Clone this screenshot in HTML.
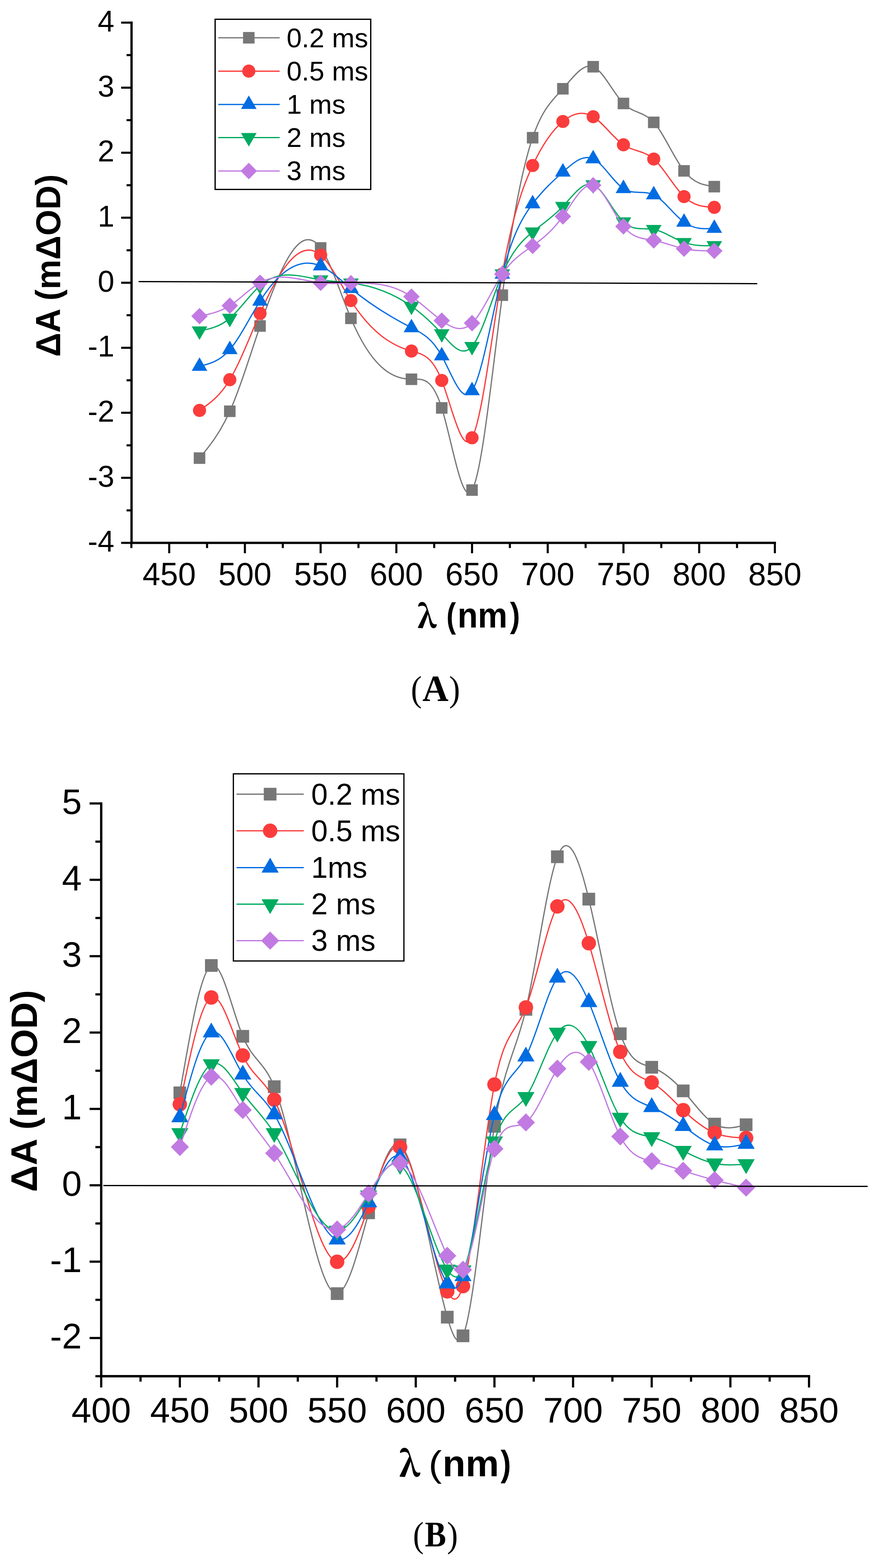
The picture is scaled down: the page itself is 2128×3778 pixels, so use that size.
<!DOCTYPE html><html><head><meta charset="utf-8"><style>html,body{margin:0;padding:0;background:#fff}svg{display:block}text{font-family:"Liberation Sans",Arial,sans-serif}.ser{font-family:"Liberation Serif","Times New Roman",serif;font-weight:bold}</style></head><body>
<svg width="2128" height="3778" viewBox="0 0 2128 3778">
<rect width="2128" height="3778" fill="#fff"/>
<g fill="none" stroke="#777777" stroke-width="3" stroke-linejoin="round"><path d="M480.78,1103.80 C505.11,1074.52 529.43,1045.25 553.76,990.90 C578.09,936.55 602.41,857.13 626.74,785.50 C675.39,642.25 724.05,530.18 772.70,597.40 C797.03,631.01 821.35,709.43 845.68,767.00 C894.33,882.13 942.99,913.82 991.64,913.80 C1015.97,913.79 1040.29,905.86 1064.62,982.90 C1088.95,1059.94 1113.27,1221.96 1137.60,1180.80 C1161.93,1139.64 1186.25,895.29 1210.58,711.20 C1234.91,527.11 1259.23,403.29 1283.56,331.80 C1307.89,260.31 1332.21,241.17 1356.54,213.90 C1380.87,186.63 1405.19,151.24 1429.52,160.80 C1453.85,170.36 1478.17,224.86 1502.50,249.30 C1526.83,273.74 1551.15,268.11 1575.48,294.80 C1599.81,321.49 1624.13,380.50 1648.46,411.70 C1672.79,442.90 1697.11,446.30 1721.44,449.70"/></g>
<g><rect x="466.9" y="1089.9" width="27.8" height="27.8" fill="#777777"/><rect x="539.9" y="977.0" width="27.8" height="27.8" fill="#777777"/><rect x="612.8" y="771.6" width="27.8" height="27.8" fill="#777777"/><rect x="758.8" y="583.5" width="27.8" height="27.8" fill="#777777"/><rect x="831.8" y="753.1" width="27.8" height="27.8" fill="#777777"/><rect x="977.7" y="899.9" width="27.8" height="27.8" fill="#777777"/><rect x="1050.7" y="969.0" width="27.8" height="27.8" fill="#777777"/><rect x="1123.7" y="1166.9" width="27.8" height="27.8" fill="#777777"/><rect x="1196.7" y="697.3" width="27.8" height="27.8" fill="#777777"/><rect x="1269.7" y="317.9" width="27.8" height="27.8" fill="#777777"/><rect x="1342.6" y="200.0" width="27.8" height="27.8" fill="#777777"/><rect x="1415.6" y="146.9" width="27.8" height="27.8" fill="#777777"/><rect x="1488.6" y="235.4" width="27.8" height="27.8" fill="#777777"/><rect x="1561.6" y="280.9" width="27.8" height="27.8" fill="#777777"/><rect x="1634.6" y="397.8" width="27.8" height="27.8" fill="#777777"/><rect x="1707.5" y="435.8" width="27.8" height="27.8" fill="#777777"/></g>
<g fill="none" stroke="#FB3C3C" stroke-width="3" stroke-linejoin="round"><path d="M480.78,988.90 C505.11,972.16 529.43,955.42 553.76,914.90 C578.09,874.38 602.41,810.08 626.74,755.10 C675.39,645.13 724.05,572.42 772.70,614.70 C797.03,635.84 821.35,685.73 845.68,724.20 C894.33,801.13 942.99,832.36 991.64,845.90 C1015.97,852.67 1040.29,855.01 1064.62,916.70 C1088.95,978.39 1113.27,1099.42 1137.60,1054.80 C1161.93,1010.18 1186.25,799.89 1210.58,660.00 C1234.91,520.11 1259.23,450.60 1283.56,398.80 C1307.89,347.00 1332.21,312.90 1356.54,292.70 C1380.87,272.50 1405.19,266.21 1429.52,281.20 C1453.85,296.19 1478.17,332.45 1502.50,348.90 C1526.83,365.35 1551.15,361.99 1575.48,383.20 C1599.81,404.41 1624.13,450.20 1648.46,473.70 C1672.79,497.20 1697.11,498.40 1721.44,499.60"/></g>
<g><circle cx="480.8" cy="988.9" r="15.8" fill="#FB3C3C"/><circle cx="553.8" cy="914.9" r="15.8" fill="#FB3C3C"/><circle cx="626.7" cy="755.1" r="15.8" fill="#FB3C3C"/><circle cx="772.7" cy="614.7" r="15.8" fill="#FB3C3C"/><circle cx="845.7" cy="724.2" r="15.8" fill="#FB3C3C"/><circle cx="991.6" cy="845.9" r="15.8" fill="#FB3C3C"/><circle cx="1064.6" cy="916.7" r="15.8" fill="#FB3C3C"/><circle cx="1137.6" cy="1054.8" r="15.8" fill="#FB3C3C"/><circle cx="1210.6" cy="660.0" r="15.8" fill="#FB3C3C"/><circle cx="1283.6" cy="398.8" r="15.8" fill="#FB3C3C"/><circle cx="1356.5" cy="292.7" r="15.8" fill="#FB3C3C"/><circle cx="1429.5" cy="281.2" r="15.8" fill="#FB3C3C"/><circle cx="1502.5" cy="348.9" r="15.8" fill="#FB3C3C"/><circle cx="1575.5" cy="383.2" r="15.8" fill="#FB3C3C"/><circle cx="1648.5" cy="473.7" r="15.8" fill="#FB3C3C"/><circle cx="1721.4" cy="499.6" r="15.8" fill="#FB3C3C"/></g>
<g fill="none" stroke="#006CE2" stroke-width="3" stroke-linejoin="round"><path d="M480.78,882.70 C505.11,876.64 529.43,870.59 553.76,842.40 C578.09,814.21 602.41,763.90 626.74,725.50 C675.39,648.70 724.05,619.54 772.70,640.80 C797.03,651.43 821.35,674.67 845.68,695.00 C894.33,735.66 942.99,764.69 991.64,789.60 C1015.97,802.06 1040.29,813.49 1064.62,857.40 C1088.95,901.31 1113.27,977.71 1137.60,941.40 C1161.93,905.09 1186.25,756.08 1210.58,660.60 C1234.91,565.12 1259.23,523.17 1283.56,491.00 C1307.89,458.83 1332.21,436.42 1356.54,414.50 C1380.87,392.58 1405.19,371.13 1429.52,382.60 C1453.85,394.07 1478.17,438.45 1502.50,454.30 C1526.83,470.15 1551.15,457.48 1575.48,469.40 C1599.81,481.32 1624.13,517.82 1648.46,535.40 C1672.79,552.98 1697.11,551.64 1721.44,550.30"/></g>
<g><polygon points="480.8,861.0 499.6,893.6 462.0,893.6" fill="#006CE2"/><polygon points="553.8,820.7 572.6,853.2 535.0,853.2" fill="#006CE2"/><polygon points="626.7,703.8 645.5,736.4 607.9,736.4" fill="#006CE2"/><polygon points="772.7,619.1 791.5,651.6 753.9,651.6" fill="#006CE2"/><polygon points="845.7,673.3 864.5,705.9 826.9,705.9" fill="#006CE2"/><polygon points="991.6,767.9 1010.4,800.5 972.8,800.5" fill="#006CE2"/><polygon points="1064.6,835.7 1083.4,868.2 1045.8,868.2" fill="#006CE2"/><polygon points="1137.6,919.7 1156.4,952.2 1118.8,952.2" fill="#006CE2"/><polygon points="1210.6,638.9 1229.4,671.5 1191.8,671.5" fill="#006CE2"/><polygon points="1283.6,469.3 1302.4,501.9 1264.8,501.9" fill="#006CE2"/><polygon points="1356.5,392.8 1375.3,425.4 1337.7,425.4" fill="#006CE2"/><polygon points="1429.5,360.9 1448.3,393.5 1410.7,393.5" fill="#006CE2"/><polygon points="1502.5,432.6 1521.3,465.2 1483.7,465.2" fill="#006CE2"/><polygon points="1575.5,447.7 1594.3,480.2 1556.7,480.2" fill="#006CE2"/><polygon points="1648.5,513.7 1667.3,546.2 1629.7,546.2" fill="#006CE2"/><polygon points="1721.4,528.6 1740.2,561.1 1702.6,561.1" fill="#006CE2"/></g>
<g fill="none" stroke="#00AB60" stroke-width="3" stroke-linejoin="round"><path d="M480.78,797.40 C505.11,792.60 529.43,787.80 553.76,767.00 C578.09,746.20 602.41,709.42 626.74,688.30 C675.39,646.07 724.05,666.53 772.70,674.20 C797.03,678.03 821.35,678.67 845.68,681.70 C894.33,687.77 942.99,703.44 991.64,737.90 C1015.97,755.13 1040.29,777.05 1064.62,804.10 C1088.95,831.15 1113.27,863.31 1137.60,834.70 C1161.93,806.09 1186.25,716.71 1210.58,659.90 C1234.91,603.09 1259.23,578.87 1283.56,558.90 C1307.89,538.93 1332.21,523.23 1356.54,497.30 C1380.87,471.37 1405.19,435.22 1429.52,445.20 C1453.85,455.18 1478.17,511.29 1502.50,534.60 C1526.83,557.91 1551.15,548.43 1575.48,552.80 C1599.81,557.17 1624.13,575.41 1648.46,584.20 C1672.79,592.99 1697.11,592.35 1721.44,591.70"/></g>
<g><polygon points="462.0,786.5 499.6,786.5 480.8,819.1" fill="#00AB60"/><polygon points="535.0,756.1 572.6,756.1 553.8,788.7" fill="#00AB60"/><polygon points="607.9,677.4 645.5,677.4 626.7,710.0" fill="#00AB60"/><polygon points="753.9,663.4 791.5,663.4 772.7,695.9" fill="#00AB60"/><polygon points="826.9,670.9 864.5,670.9 845.7,703.4" fill="#00AB60"/><polygon points="972.8,727.0 1010.4,727.0 991.6,759.6" fill="#00AB60"/><polygon points="1045.8,793.2 1083.4,793.2 1064.6,825.8" fill="#00AB60"/><polygon points="1118.8,823.9 1156.4,823.9 1137.6,856.4" fill="#00AB60"/><polygon points="1191.8,649.0 1229.4,649.0 1210.6,681.6" fill="#00AB60"/><polygon points="1264.8,548.0 1302.4,548.0 1283.6,580.6" fill="#00AB60"/><polygon points="1337.7,486.4 1375.3,486.4 1356.5,519.0" fill="#00AB60"/><polygon points="1410.7,434.3 1448.3,434.3 1429.5,466.9" fill="#00AB60"/><polygon points="1483.7,523.8 1521.3,523.8 1502.5,556.3" fill="#00AB60"/><polygon points="1556.7,541.9 1594.3,541.9 1575.5,574.5" fill="#00AB60"/><polygon points="1629.7,573.4 1667.3,573.4 1648.5,605.9" fill="#00AB60"/><polygon points="1702.6,580.9 1740.2,580.9 1721.4,613.4" fill="#00AB60"/></g>
<g fill="none" stroke="#C17AE2" stroke-width="3" stroke-linejoin="round"><path d="M480.78,761.70 C505.11,756.83 529.43,751.96 553.76,736.50 C578.09,721.04 602.41,695.00 626.74,681.30 C675.39,653.90 724.05,675.85 772.70,681.40 C797.03,684.17 821.35,682.85 845.68,682.20 C894.33,680.90 942.99,682.32 991.64,714.70 C1015.97,730.89 1040.29,754.83 1064.62,772.60 C1088.95,790.37 1113.27,801.99 1137.60,778.60 C1161.93,755.21 1186.25,696.81 1210.58,660.40 C1234.91,623.99 1259.23,609.56 1283.56,592.40 C1307.89,575.24 1332.21,555.36 1356.54,521.40 C1380.87,487.44 1405.19,439.40 1429.52,446.30 C1453.85,453.20 1478.17,515.04 1502.50,545.40 C1526.83,575.76 1551.15,574.63 1575.48,579.20 C1599.81,583.77 1624.13,594.03 1648.46,599.20 C1672.79,604.37 1697.11,604.43 1721.44,604.50"/></g>
<g><polygon points="480.8,741.9 500.6,761.7 480.8,781.5 461.0,761.7" fill="#C17AE2"/><polygon points="553.8,716.7 573.6,736.5 553.8,756.3 534.0,736.5" fill="#C17AE2"/><polygon points="626.7,661.5 646.5,681.3 626.7,701.1 606.9,681.3" fill="#C17AE2"/><polygon points="772.7,661.6 792.5,681.4 772.7,701.2 752.9,681.4" fill="#C17AE2"/><polygon points="845.7,662.4 865.5,682.2 845.7,702.0 825.9,682.2" fill="#C17AE2"/><polygon points="991.6,694.9 1011.4,714.7 991.6,734.5 971.8,714.7" fill="#C17AE2"/><polygon points="1064.6,752.8 1084.4,772.6 1064.6,792.4 1044.8,772.6" fill="#C17AE2"/><polygon points="1137.6,758.8 1157.4,778.6 1137.6,798.4 1117.8,778.6" fill="#C17AE2"/><polygon points="1210.6,640.6 1230.4,660.4 1210.6,680.2 1190.8,660.4" fill="#C17AE2"/><polygon points="1283.6,572.6 1303.4,592.4 1283.6,612.2 1263.8,592.4" fill="#C17AE2"/><polygon points="1356.5,501.6 1376.3,521.4 1356.5,541.2 1336.7,521.4" fill="#C17AE2"/><polygon points="1429.5,426.5 1449.3,446.3 1429.5,466.1 1409.7,446.3" fill="#C17AE2"/><polygon points="1502.5,525.6 1522.3,545.4 1502.5,565.2 1482.7,545.4" fill="#C17AE2"/><polygon points="1575.5,559.4 1595.3,579.2 1575.5,599.0 1555.7,579.2" fill="#C17AE2"/><polygon points="1648.5,579.4 1668.3,599.2 1648.5,619.0 1628.7,599.2" fill="#C17AE2"/><polygon points="1721.4,584.7 1741.2,604.5 1721.4,624.3 1701.6,604.5" fill="#C17AE2"/></g>
<line x1="334" y1="678.5" x2="1825" y2="683.4" stroke="#000" stroke-width="3"/>
<path d="M317,51.8 V1308 H1870.1000000000001" fill="none" stroke="#000" stroke-width="5.5" stroke-linejoin="miter"/>
<path d="M292,54.5 H317 M292,211.2 H317 M292,367.9 H317 M292,524.6 H317 M292,681.2 H317 M292,837.9 H317 M292,994.6 H317 M292,1151.3 H317 M292,1308.0 H317 M305,132.8 H317 M305,289.5 H317 M305,446.2 H317 M305,602.9 H317 M305,759.6 H317 M305,916.3 H317 M305,1073.0 H317 M305,1229.7 H317 M407.8,1308 V1333 M590.2,1308 V1333 M772.7,1308 V1333 M955.2,1308 V1333 M1137.6,1308 V1333 M1320.0,1308 V1333 M1502.5,1308 V1333 M1685.0,1308 V1333 M1867.4,1308 V1333 M316.6,1308 V1320.5 M499.0,1308 V1320.5 M681.5,1308 V1320.5 M863.9,1308 V1320.5 M1046.4,1308 V1320.5 M1228.8,1308 V1320.5 M1411.3,1308 V1320.5 M1593.7,1308 V1320.5 M1776.2,1308 V1320.5" stroke="#000" stroke-width="5" fill="none"/>
<text x="275.5" y="75.8" font-size="72" text-anchor="end">4</text>
<text x="275.5" y="232.5" font-size="72" text-anchor="end">3</text>
<text x="275.5" y="389.2" font-size="72" text-anchor="end">2</text>
<text x="275.5" y="545.9" font-size="72" text-anchor="end">1</text>
<text x="275.5" y="702.5" font-size="72" text-anchor="end">0</text>
<text x="275.5" y="859.2" font-size="72" text-anchor="end">-1</text>
<text x="275.5" y="1015.9" font-size="72" text-anchor="end">-2</text>
<text x="275.5" y="1172.6" font-size="72" text-anchor="end">-3</text>
<text x="275.5" y="1329.3" font-size="72" text-anchor="end">-4</text>
<text x="407.8" y="1409.5" font-size="77" text-anchor="middle">450</text>
<text x="590.2" y="1409.5" font-size="77" text-anchor="middle">500</text>
<text x="772.7" y="1409.5" font-size="77" text-anchor="middle">550</text>
<text x="955.2" y="1409.5" font-size="77" text-anchor="middle">600</text>
<text x="1137.6" y="1409.5" font-size="77" text-anchor="middle">650</text>
<text x="1320.0" y="1409.5" font-size="77" text-anchor="middle">700</text>
<text x="1502.5" y="1409.5" font-size="77" text-anchor="middle">750</text>
<text x="1685.0" y="1409.5" font-size="77" text-anchor="middle">800</text>
<text x="1867.4" y="1409.5" font-size="77" text-anchor="middle">850</text>
<text x="300" y="400" font-size="84" style="font-family:'Liberation Sans';font-weight:bold"  transform="matrix(0.00000 -0.96009 0.98846 0.00000 -250.09 1147.81)">ΔA (mΔOD)</text>
<text x="300" y="400" font-size="86" style="font-family:'Noto Serif CJK SC';font-weight:bold;stroke:#000;stroke-width:1.5"  transform="matrix(0.83889 0.00000 0.00000 0.86351 754.69 1166.97)">λ</text>
<text x="300" y="400" font-size="86" style="font-family:'Liberation Sans';font-weight:bold"  transform="matrix(0.80417 0.00000 0.00000 0.96500 834.53 1125.63)">(</text>
<text x="300" y="400" font-size="86" style="font-family:'Liberation Sans';font-weight:bold"  transform="matrix(0.93390 0.00000 0.00000 1.00217 822.23 1111.53)">nm</text>
<text x="300" y="400" font-size="86" style="font-family:'Liberation Sans';font-weight:bold"  transform="matrix(0.85000 0.00000 0.00000 0.96125 973.90 1127.00)">)</text>
<rect x="518.45" y="46.45" width="375.0" height="410.0" fill="#fff" stroke="#000" stroke-width="3.1"/>
<line x1="526" y1="91" x2="674" y2="91" stroke="#777777" stroke-width="3"/>
<rect x="585.7" y="77.1" width="27.8" height="27.8" fill="#777777"/>
<text x="690.7" y="114.4" font-size="65.5">0.2 ms</text>
<line x1="526" y1="171.4" x2="674" y2="171.4" stroke="#FB3C3C" stroke-width="3"/>
<circle cx="599.6" cy="171.4" r="15.8" fill="#FB3C3C"/>
<text x="690.7" y="193.8" font-size="65.5">0.5 ms</text>
<line x1="526" y1="251.7" x2="674" y2="251.7" stroke="#006CE2" stroke-width="3"/>
<polygon points="599.6,230.0 618.4,262.6 580.8,262.6" fill="#006CE2"/>
<text x="690.7" y="274.3" font-size="65.5">1 ms</text>
<line x1="526" y1="331.4" x2="674" y2="331.4" stroke="#00AB60" stroke-width="3"/>
<polygon points="580.8,320.5 618.4,320.5 599.6,353.1" fill="#00AB60"/>
<text x="690.7" y="354.3" font-size="65.5">2 ms</text>
<line x1="526" y1="412.1" x2="674" y2="412.1" stroke="#C17AE2" stroke-width="3"/>
<polygon points="599.6,392.3 619.4,412.1 599.6,431.9 579.8,412.1" fill="#C17AE2"/>
<text x="690.7" y="434.2" font-size="65.5">3 ms</text>
<text x="300" y="400" font-size="87" style="font-family:'Liberation Serif'"  transform="matrix(0.90909 0.00000 0.00000 1.00128 717.44 1288.36)">(</text>
<text x="300" y="400" font-size="87" style="font-family:'Liberation Serif';font-weight:bold"  transform="matrix(1.00164 0.00000 0.00000 1.01579 717.41 1281.48)">A</text>
<text x="300" y="400" font-size="87" style="font-family:'Liberation Serif'"  transform="matrix(0.91364 0.00000 0.00000 1.00128 808.07 1288.36)">)</text>
<g fill="none" stroke="#777777" stroke-width="3" stroke-linejoin="round"><path d="M433.44,2633.10 C458.71,2485.89 483.98,2338.68 509.25,2326.30 C534.52,2313.92 559.79,2436.38 585.06,2496.90 C610.33,2557.42 635.61,2556.01 660.88,2618.30 C711.42,2742.89 761.96,3122.30 812.50,3116.90 C837.78,3114.20 863.05,3015.30 888.32,2922.20 C913.59,2829.10 938.86,2741.82 964.13,2758.40 C1002.04,2783.27 1039.95,3041.84 1077.85,3173.60 C1090.49,3217.52 1103.13,3247.35 1115.76,3218.60 C1141.03,3161.11 1166.30,2869.32 1191.58,2713.80 C1216.85,2558.28 1242.12,2539.03 1267.39,2432.00 C1292.66,2324.97 1317.93,2130.17 1343.20,2064.30 C1368.47,1998.43 1393.75,2061.50 1419.02,2166.40 C1444.29,2271.30 1469.56,2418.04 1494.83,2490.80 C1520.10,2563.56 1545.37,2562.33 1570.65,2571.50 C1595.92,2580.67 1621.19,2600.23 1646.46,2628.40 C1671.73,2656.57 1697.00,2693.36 1722.27,2708.40 C1747.54,2723.44 1772.82,2716.72 1798.09,2710.00"/></g>
<g><rect x="418.1" y="2617.8" width="30.6" height="30.6" fill="#777777"/><rect x="494.0" y="2311.0" width="30.6" height="30.6" fill="#777777"/><rect x="569.8" y="2481.6" width="30.6" height="30.6" fill="#777777"/><rect x="645.6" y="2603.0" width="30.6" height="30.6" fill="#777777"/><rect x="797.2" y="3101.6" width="30.6" height="30.6" fill="#777777"/><rect x="873.0" y="2906.9" width="30.6" height="30.6" fill="#777777"/><rect x="948.8" y="2743.1" width="30.6" height="30.6" fill="#777777"/><rect x="1062.6" y="3158.3" width="30.6" height="30.6" fill="#777777"/><rect x="1100.5" y="3203.3" width="30.6" height="30.6" fill="#777777"/><rect x="1176.3" y="2698.5" width="30.6" height="30.6" fill="#777777"/><rect x="1252.1" y="2416.7" width="30.6" height="30.6" fill="#777777"/><rect x="1327.9" y="2049.0" width="30.6" height="30.6" fill="#777777"/><rect x="1403.7" y="2151.1" width="30.6" height="30.6" fill="#777777"/><rect x="1479.5" y="2475.5" width="30.6" height="30.6" fill="#777777"/><rect x="1555.4" y="2556.2" width="30.6" height="30.6" fill="#777777"/><rect x="1631.2" y="2613.1" width="30.6" height="30.6" fill="#777777"/><rect x="1707.0" y="2693.1" width="30.6" height="30.6" fill="#777777"/><rect x="1782.8" y="2694.7" width="30.6" height="30.6" fill="#777777"/></g>
<g fill="none" stroke="#FB3C3C" stroke-width="3" stroke-linejoin="round"><path d="M433.44,2660.60 C458.71,2537.83 483.98,2415.06 509.25,2403.40 C534.52,2391.74 559.79,2491.19 585.06,2543.20 C610.33,2595.21 635.61,2599.77 660.88,2649.70 C711.42,2749.57 761.96,3030.92 812.50,3040.20 C837.78,3044.84 863.05,2981.46 888.32,2907.30 C913.59,2833.14 938.86,2748.19 964.13,2764.00 C1002.04,2787.71 1039.95,3038.12 1077.85,3111.50 C1090.49,3135.96 1103.13,3140.75 1115.76,3098.80 C1141.03,3014.91 1166.30,2744.07 1191.58,2613.10 C1216.85,2482.13 1242.12,2491.01 1267.39,2427.40 C1292.66,2363.79 1317.93,2227.69 1343.20,2184.00 C1368.47,2140.31 1393.75,2189.03 1419.02,2272.70 C1444.29,2356.37 1469.56,2475.00 1494.83,2534.40 C1520.10,2593.80 1545.37,2593.97 1570.65,2608.20 C1595.92,2622.43 1621.19,2650.72 1646.46,2674.90 C1671.73,2699.08 1697.00,2719.14 1722.27,2729.60 C1747.54,2740.06 1772.82,2740.93 1798.09,2741.80"/></g>
<g><circle cx="433.4" cy="2660.6" r="17.4" fill="#FB3C3C"/><circle cx="509.2" cy="2403.4" r="17.4" fill="#FB3C3C"/><circle cx="585.1" cy="2543.2" r="17.4" fill="#FB3C3C"/><circle cx="660.9" cy="2649.7" r="17.4" fill="#FB3C3C"/><circle cx="812.5" cy="3040.2" r="17.4" fill="#FB3C3C"/><circle cx="888.3" cy="2907.3" r="17.4" fill="#FB3C3C"/><circle cx="964.1" cy="2764.0" r="17.4" fill="#FB3C3C"/><circle cx="1077.9" cy="3111.5" r="17.4" fill="#FB3C3C"/><circle cx="1115.8" cy="3098.8" r="17.4" fill="#FB3C3C"/><circle cx="1191.6" cy="2613.1" r="17.4" fill="#FB3C3C"/><circle cx="1267.4" cy="2427.4" r="17.4" fill="#FB3C3C"/><circle cx="1343.2" cy="2184.0" r="17.4" fill="#FB3C3C"/><circle cx="1419.0" cy="2272.7" r="17.4" fill="#FB3C3C"/><circle cx="1494.8" cy="2534.4" r="17.4" fill="#FB3C3C"/><circle cx="1570.6" cy="2608.2" r="17.4" fill="#FB3C3C"/><circle cx="1646.5" cy="2674.9" r="17.4" fill="#FB3C3C"/><circle cx="1722.3" cy="2729.6" r="17.4" fill="#FB3C3C"/><circle cx="1798.1" cy="2741.8" r="17.4" fill="#FB3C3C"/></g>
<g fill="none" stroke="#006CE2" stroke-width="3" stroke-linejoin="round"><path d="M433.44,2692.00 C458.71,2595.93 483.98,2499.85 509.25,2487.70 C534.52,2475.55 559.79,2547.32 585.06,2589.20 C610.33,2631.08 635.61,2643.06 660.88,2685.00 C711.42,2768.89 761.96,2972.64 812.50,2986.50 C837.78,2993.43 863.05,2952.89 888.32,2897.20 C913.59,2841.51 938.86,2770.68 964.13,2787.80 C1002.04,2813.47 1039.95,3037.03 1077.85,3092.40 C1090.49,3110.86 1103.13,3110.63 1115.76,3074.80 C1141.03,3003.14 1166.30,2789.09 1191.58,2686.80 C1216.85,2584.51 1242.12,2593.98 1267.39,2545.70 C1292.66,2497.42 1317.93,2391.40 1343.20,2355.60 C1368.47,2319.80 1393.75,2354.20 1419.02,2414.50 C1444.29,2474.80 1469.56,2560.98 1494.83,2606.50 C1520.10,2652.02 1545.37,2656.89 1570.65,2667.50 C1595.92,2678.11 1621.19,2694.46 1646.46,2713.00 C1671.73,2731.54 1697.00,2752.27 1722.27,2759.80 C1747.54,2767.33 1772.82,2761.67 1798.09,2756.00"/></g>
<g><polygon points="433.4,2668.1 454.1,2703.9 412.8,2703.9" fill="#006CE2"/><polygon points="509.2,2463.8 529.9,2499.6 488.6,2499.6" fill="#006CE2"/><polygon points="585.1,2565.3 605.7,2601.1 564.4,2601.1" fill="#006CE2"/><polygon points="660.9,2661.1 681.6,2696.9 640.2,2696.9" fill="#006CE2"/><polygon points="812.5,2962.6 833.2,2998.4 791.8,2998.4" fill="#006CE2"/><polygon points="888.3,2873.3 909.0,2909.1 867.6,2909.1" fill="#006CE2"/><polygon points="964.1,2763.9 984.8,2799.7 943.5,2799.7" fill="#006CE2"/><polygon points="1077.9,3068.5 1098.5,3104.3 1057.2,3104.3" fill="#006CE2"/><polygon points="1115.8,3050.9 1136.4,3086.7 1095.1,3086.7" fill="#006CE2"/><polygon points="1191.6,2662.9 1212.3,2698.7 1170.9,2698.7" fill="#006CE2"/><polygon points="1267.4,2521.8 1288.1,2557.6 1246.7,2557.6" fill="#006CE2"/><polygon points="1343.2,2331.7 1363.9,2367.5 1322.5,2367.5" fill="#006CE2"/><polygon points="1419.0,2390.6 1439.7,2426.4 1398.3,2426.4" fill="#006CE2"/><polygon points="1494.8,2582.6 1515.5,2618.4 1474.2,2618.4" fill="#006CE2"/><polygon points="1570.6,2643.6 1591.3,2679.4 1550.0,2679.4" fill="#006CE2"/><polygon points="1646.5,2689.1 1667.1,2724.9 1625.8,2724.9" fill="#006CE2"/><polygon points="1722.3,2735.9 1743.0,2771.7 1701.6,2771.7" fill="#006CE2"/><polygon points="1798.1,2732.1 1818.8,2767.9 1777.4,2767.9" fill="#006CE2"/></g>
<g fill="none" stroke="#00AB60" stroke-width="3" stroke-linejoin="round"><path d="M433.44,2730.20 C458.71,2654.14 483.98,2578.08 509.25,2564.20 C534.52,2550.32 559.79,2598.62 585.06,2633.50 C610.33,2668.38 635.61,2689.83 660.88,2730.20 C711.42,2810.94 761.96,2967.33 812.50,2965.40 C837.78,2964.43 863.05,2923.89 888.32,2880.30 C913.59,2836.71 938.86,2790.08 964.13,2806.90 C1002.04,2832.13 1039.95,3000.12 1077.85,3058.80 C1090.49,3078.36 1103.13,3085.78 1115.76,3061.00 C1141.03,3011.44 1166.30,2833.10 1191.58,2750.10 C1216.85,2667.10 1242.12,2679.42 1267.39,2643.20 C1292.66,2606.98 1317.93,2522.20 1343.20,2488.10 C1368.47,2454.00 1393.75,2470.57 1419.02,2520.10 C1444.29,2569.63 1469.56,2652.13 1494.83,2693.10 C1520.10,2734.07 1545.37,2733.51 1570.65,2740.00 C1595.92,2746.49 1621.19,2760.03 1646.46,2772.90 C1671.73,2785.77 1697.00,2797.96 1722.27,2803.20 C1747.54,2808.44 1772.82,2806.72 1798.09,2805.00"/></g>
<g><polygon points="412.8,2718.3 454.1,2718.3 433.4,2754.1" fill="#00AB60"/><polygon points="488.6,2552.3 529.9,2552.3 509.2,2588.1" fill="#00AB60"/><polygon points="564.4,2621.6 605.7,2621.6 585.1,2657.4" fill="#00AB60"/><polygon points="640.2,2718.3 681.6,2718.3 660.9,2754.1" fill="#00AB60"/><polygon points="791.8,2953.5 833.2,2953.5 812.5,2989.3" fill="#00AB60"/><polygon points="867.6,2868.4 909.0,2868.4 888.3,2904.2" fill="#00AB60"/><polygon points="943.5,2795.0 984.8,2795.0 964.1,2830.8" fill="#00AB60"/><polygon points="1057.2,3046.9 1098.5,3046.9 1077.9,3082.7" fill="#00AB60"/><polygon points="1095.1,3049.1 1136.4,3049.1 1115.8,3084.9" fill="#00AB60"/><polygon points="1170.9,2738.2 1212.3,2738.2 1191.6,2774.0" fill="#00AB60"/><polygon points="1246.7,2631.3 1288.1,2631.3 1267.4,2667.1" fill="#00AB60"/><polygon points="1322.5,2476.2 1363.9,2476.2 1343.2,2512.0" fill="#00AB60"/><polygon points="1398.3,2508.2 1439.7,2508.2 1419.0,2544.0" fill="#00AB60"/><polygon points="1474.2,2681.2 1515.5,2681.2 1494.8,2717.0" fill="#00AB60"/><polygon points="1550.0,2728.1 1591.3,2728.1 1570.6,2763.9" fill="#00AB60"/><polygon points="1625.8,2761.0 1667.1,2761.0 1646.5,2796.8" fill="#00AB60"/><polygon points="1701.6,2791.3 1743.0,2791.3 1722.3,2827.1" fill="#00AB60"/><polygon points="1777.4,2793.1 1818.8,2793.1 1798.1,2828.9" fill="#00AB60"/></g>
<g fill="none" stroke="#C17AE2" stroke-width="3" stroke-linejoin="round"><path d="M433.44,2763.60 C458.71,2685.28 483.98,2606.97 509.25,2594.30 C534.52,2581.63 559.79,2634.62 585.06,2674.40 C610.33,2714.18 635.61,2740.76 660.88,2778.60 C711.42,2854.27 761.96,2974.97 812.50,2962.40 C837.78,2956.11 863.05,2916.51 888.32,2875.80 C913.59,2835.09 938.86,2793.27 964.13,2802.30 C1002.04,2815.84 1039.95,2943.77 1077.85,3025.70 C1090.49,3053.01 1103.13,3075.21 1115.76,3059.40 C1141.03,3027.78 1166.30,2844.13 1191.58,2768.00 C1216.85,2691.87 1242.12,2723.26 1267.39,2704.40 C1292.66,2685.54 1317.93,2616.44 1343.20,2574.90 C1368.47,2533.36 1393.75,2519.39 1419.02,2558.50 C1444.29,2597.61 1469.56,2689.79 1494.83,2738.20 C1520.10,2786.61 1545.37,2791.26 1570.65,2797.80 C1595.92,2804.34 1621.19,2812.79 1646.46,2820.90 C1671.73,2829.01 1697.00,2836.79 1722.27,2843.50 C1747.54,2850.21 1772.82,2855.86 1798.09,2861.50"/></g>
<g><polygon points="433.4,2741.8 455.2,2763.6 433.4,2785.4 411.7,2763.6" fill="#C17AE2"/><polygon points="509.2,2572.5 531.0,2594.3 509.2,2616.1 487.5,2594.3" fill="#C17AE2"/><polygon points="585.1,2652.6 606.8,2674.4 585.1,2696.2 563.3,2674.4" fill="#C17AE2"/><polygon points="660.9,2756.8 682.7,2778.6 660.9,2800.4 639.1,2778.6" fill="#C17AE2"/><polygon points="812.5,2940.6 834.3,2962.4 812.5,2984.2 790.7,2962.4" fill="#C17AE2"/><polygon points="888.3,2854.0 910.1,2875.8 888.3,2897.6 866.5,2875.8" fill="#C17AE2"/><polygon points="964.1,2780.5 985.9,2802.3 964.1,2824.1 942.4,2802.3" fill="#C17AE2"/><polygon points="1077.9,3003.9 1099.6,3025.7 1077.9,3047.5 1056.1,3025.7" fill="#C17AE2"/><polygon points="1115.8,3037.6 1137.5,3059.4 1115.8,3081.2 1094.0,3059.4" fill="#C17AE2"/><polygon points="1191.6,2746.2 1213.4,2768.0 1191.6,2789.8 1169.8,2768.0" fill="#C17AE2"/><polygon points="1267.4,2682.6 1289.2,2704.4 1267.4,2726.2 1245.6,2704.4" fill="#C17AE2"/><polygon points="1343.2,2553.1 1365.0,2574.9 1343.2,2596.7 1321.4,2574.9" fill="#C17AE2"/><polygon points="1419.0,2536.7 1440.8,2558.5 1419.0,2580.3 1397.2,2558.5" fill="#C17AE2"/><polygon points="1494.8,2716.4 1516.6,2738.2 1494.8,2760.0 1473.1,2738.2" fill="#C17AE2"/><polygon points="1570.6,2776.0 1592.4,2797.8 1570.6,2819.6 1548.9,2797.8" fill="#C17AE2"/><polygon points="1646.5,2799.1 1668.2,2820.9 1646.5,2842.7 1624.7,2820.9" fill="#C17AE2"/><polygon points="1722.3,2821.7 1744.1,2843.5 1722.3,2865.3 1700.5,2843.5" fill="#C17AE2"/><polygon points="1798.1,2839.7 1819.9,2861.5 1798.1,2883.3 1776.3,2861.5" fill="#C17AE2"/></g>
<line x1="249" y1="2856.4" x2="2091" y2="2858.5" stroke="#000" stroke-width="3"/>
<path d="M243.9,1933.2 V3315.9 H1952.4" fill="none" stroke="#000" stroke-width="5.6"/>
<path d="M215.9,1935.9 H243.9 M215.9,2119.9 H243.9 M215.9,2303.9 H243.9 M215.9,2487.9 H243.9 M215.9,2671.9 H243.9 M215.9,2855.9 H243.9 M215.9,3039.9 H243.9 M215.9,3223.9 H243.9 M229.9,2027.9 H243.9 M229.9,2211.9 H243.9 M229.9,2395.9 H243.9 M229.9,2579.9 H243.9 M229.9,2763.9 H243.9 M229.9,2947.9 H243.9 M229.9,3131.9 H243.9 M229.9,3315.9 H243.9 M243.9,3315.9 V3342.9 M433.4,3315.9 V3342.9 M623.0,3315.9 V3342.9 M812.5,3315.9 V3342.9 M1002.0,3315.9 V3342.9 M1191.6,3315.9 V3342.9 M1381.1,3315.9 V3342.9 M1570.6,3315.9 V3342.9 M1760.2,3315.9 V3342.9 M1949.7,3315.9 V3342.9 M338.7,3315.9 V3328.9 M528.2,3315.9 V3328.9 M717.7,3315.9 V3328.9 M907.3,3315.9 V3328.9 M1096.8,3315.9 V3328.9 M1286.3,3315.9 V3328.9 M1475.9,3315.9 V3328.9 M1665.4,3315.9 V3328.9 M1854.9,3315.9 V3328.9" stroke="#000" stroke-width="5.3" fill="none"/>
<text x="197" y="1960.7" font-size="86" text-anchor="end">5</text>
<text x="197" y="2144.7" font-size="86" text-anchor="end">4</text>
<text x="197" y="2328.7" font-size="86" text-anchor="end">3</text>
<text x="197" y="2512.7" font-size="86" text-anchor="end">2</text>
<text x="197" y="2696.7" font-size="86" text-anchor="end">1</text>
<text x="197" y="2880.7" font-size="86" text-anchor="end">0</text>
<text x="197" y="3064.7" font-size="86" text-anchor="end">-1</text>
<text x="197" y="3248.7" font-size="86" text-anchor="end">-2</text>
<text x="243.9" y="3426.8" font-size="86" text-anchor="middle">400</text>
<text x="433.4" y="3426.8" font-size="86" text-anchor="middle">450</text>
<text x="623.0" y="3426.8" font-size="86" text-anchor="middle">500</text>
<text x="812.5" y="3426.8" font-size="86" text-anchor="middle">550</text>
<text x="1002.0" y="3426.8" font-size="86" text-anchor="middle">600</text>
<text x="1191.6" y="3426.8" font-size="86" text-anchor="middle">650</text>
<text x="1381.1" y="3426.8" font-size="86" text-anchor="middle">700</text>
<text x="1570.6" y="3426.8" font-size="86" text-anchor="middle">750</text>
<text x="1760.2" y="3426.8" font-size="86" text-anchor="middle">800</text>
<text x="1949.7" y="3426.8" font-size="86" text-anchor="middle">850</text>
<text x="300" y="400" font-size="92" style="font-family:'Liberation Sans';font-weight:bold"  transform="matrix(0.00000 -0.96998 0.96512 0.00000 -297.48 3162.97)">ΔA (mΔOD)</text>
<text x="300" y="400" font-size="95" style="font-family:'Noto Serif CJK SC';font-weight:bold;stroke:#000;stroke-width:1.5"  transform="matrix(0.83333 0.00000 0.00000 0.87160 712.17 3208.34)">λ</text>
<text x="300" y="400" font-size="95" style="font-family:'Liberation Sans'"  transform="matrix(1.01600 0.00000 0.00000 0.91124 728.00 3192.78)">(</text>
<text x="300" y="400" font-size="95" style="font-family:'Liberation Sans';font-weight:bold"  transform="matrix(0.95344 0.00000 0.00000 0.94118 780.55 3180.53)">nm</text>
<text x="300" y="400" font-size="95" style="font-family:'Liberation Sans';font-weight:bold"  transform="matrix(0.79259 0.00000 0.00000 0.92472 968.62 3185.92)">)</text>
<rect x="562.4" y="1864.5" width="411.0" height="450.9000000000001" fill="#fff" stroke="#000" stroke-width="3.0"/>
<line x1="570" y1="1913.5" x2="732" y2="1913.5" stroke="#777777" stroke-width="3"/>
<rect x="635.7" y="1898.2" width="30.6" height="30.6" fill="#777777"/>
<text x="750" y="1939.2" font-size="71.5">0.2 ms</text>
<line x1="570" y1="2001.7" x2="732" y2="2001.7" stroke="#FB3C3C" stroke-width="3"/>
<circle cx="651.0" cy="2001.7" r="17.4" fill="#FB3C3C"/>
<text x="750" y="2027" font-size="71.5">0.5 ms</text>
<line x1="570" y1="2090.5" x2="732" y2="2090.5" stroke="#006CE2" stroke-width="3"/>
<polygon points="651.0,2066.6 671.7,2102.4 630.3,2102.4" fill="#006CE2"/>
<text x="750" y="2115.2" font-size="71.5">1ms</text>
<line x1="570" y1="2178.6" x2="732" y2="2178.6" stroke="#00AB60" stroke-width="3"/>
<polygon points="630.3,2166.7 671.7,2166.7 651.0,2202.5" fill="#00AB60"/>
<text x="750" y="2203" font-size="71.5">2 ms</text>
<line x1="570" y1="2266.4" x2="732" y2="2266.4" stroke="#C17AE2" stroke-width="3"/>
<polygon points="651.0,2244.6 672.8,2266.4 651.0,2288.2 629.2,2266.4" fill="#C17AE2"/>
<text x="750" y="2290.8" font-size="71.5">3 ms</text>
<text x="300" y="400" font-size="86" style="font-family:'Liberation Serif'"  transform="matrix(0.90909 0.00000 0.00000 0.99615 722.54 3328.31)">(</text>
<text x="300" y="400" font-size="86" style="font-family:'Liberation Serif';font-weight:bold"  transform="matrix(0.89259 0.00000 0.00000 1.02105 756.23 3317.58)">B</text>
<text x="300" y="400" font-size="86" style="font-family:'Liberation Serif'"  transform="matrix(0.91818 0.00000 0.00000 0.99615 801.79 3328.31)">)</text>
</svg></body></html>
